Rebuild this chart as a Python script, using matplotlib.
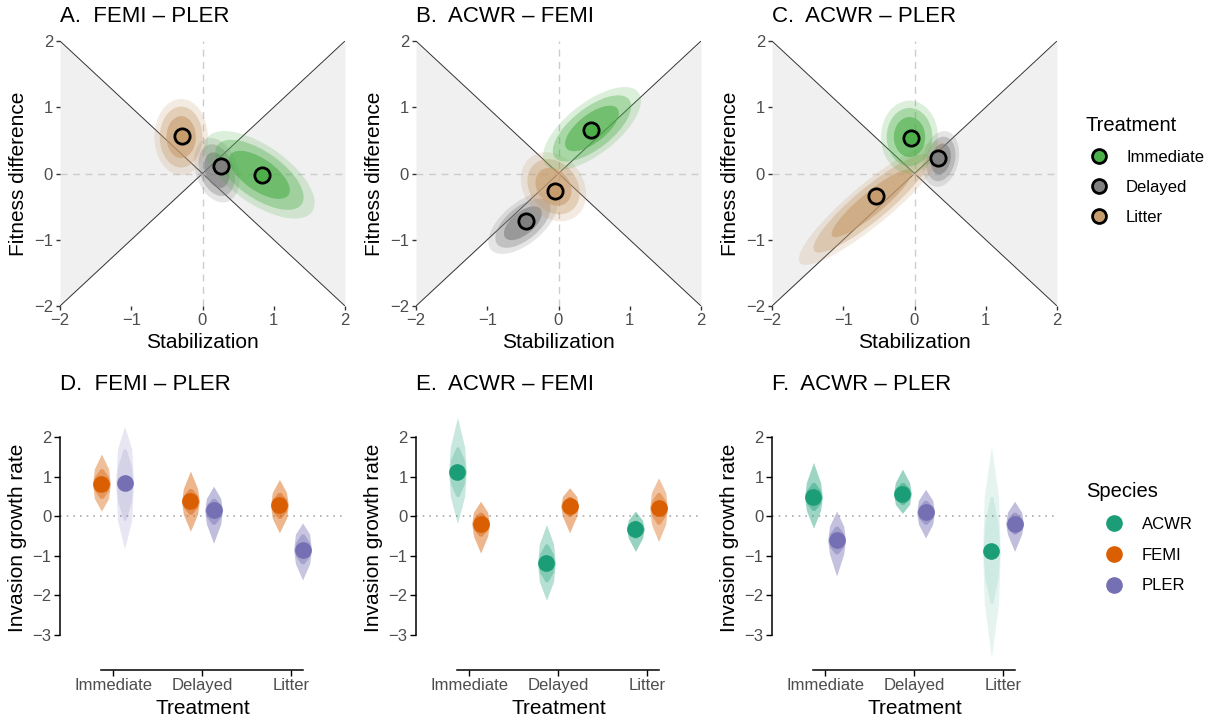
import numpy as np
import matplotlib.pyplot as plt
from matplotlib.patches import Ellipse
from matplotlib.lines import Line2D

plt.rcParams['font.family'] = ['Liberation Sans', 'DejaVu Sans']

# ---- data ----
treatments = ['Immediate', 'Delayed', 'Litter']
treat_colors = ['#4DAF4A', '#7F7F7F', '#C69C6D']
species = ['ACWR', 'FEMI', 'PLER']
species_colors = ['#1B9E77', '#D95F02', '#7570B3']

pairs = ['FEMI \u2013 PLER', 'ACWR \u2013 FEMI', 'ACWR \u2013 PLER']
top_letters = ['A', 'B', 'C']
bottom_letters = ['D', 'E', 'F']

# posterior means (Immediate, Delayed, Litter) for each pair
stab_mean = [[0.83, 0.26, -0.29], [0.46, -0.46, -0.05], [-0.05, 0.33, -0.54]]
fit_mean = [[-0.02, 0.12, 0.57], [0.66, -0.71, -0.26], [0.54, 0.24, -0.34]]

# posterior clouds summarised as ellipses: centre, major / minor axis, angle
cloud_x = [[0.80, 0.20, -0.30], [0.47, -0.50, -0.07], [-0.07, 0.37, -0.60]]
cloud_y = [[-0.02, 0.05, 0.55], [0.68, -0.75, -0.20], [0.55, 0.22, -0.45]]
cloud_major = [[1.85, 1.00, 1.15], [1.70, 1.20, 1.10], [1.10, 0.85, 2.70]]
cloud_minor = [[0.85, 0.60, 0.75], [0.75, 0.60, 0.85], [0.80, 0.50, 0.60]]
cloud_angle = [[-38, -74, 90], [41, 43, -60], [90, 80, 42]]

# invasion growth rates: species shown in each pair, per treatment
igr_species = [['FEMI', 'PLER'], ['ACWR', 'FEMI'], ['ACWR', 'PLER']]
igr_mean = [[[0.82, 0.38, 0.28], [0.85, 0.15, -0.85]],
            [[1.12, -1.19, -0.32], [-0.19, 0.25, 0.21]],
            [[0.48, 0.57, -0.89], [-0.61, 0.10, -0.19]]]
igr_lo = [[[0.13, -0.38, -0.42], [-0.82, -0.68, -1.61]],
          [[-0.19, -2.12, -0.89], [-0.93, -0.42, -0.64]],
          [[-0.30, 0.07, -3.58], [-1.51, -0.55, -0.89]]]
igr_hi = [[[1.57, 1.14, 0.93], [2.27, 0.76, -0.17]],
          [[2.50, -0.21, 0.13], [0.38, 0.72, 0.97]],
          [[1.36, 1.19, 1.76], [0.13, 0.68, 0.38]]]
igr_core_lo = [[[0.45, 0.05, -0.05], [-0.10, -0.20, -1.20]],
               [[0.50, -1.65, -0.55], [-0.50, 0.00, -0.20]],
               [[0.15, 0.30, -2.20], [-0.95, -0.20, -0.45]]]
igr_core_hi = [[[1.20, 0.70, 0.60], [1.70, 0.45, -0.45]],
               [[1.75, -0.70, -0.10], [0.10, 0.50, 0.60]],
               [[0.85, 0.85, 0.50], [-0.25, 0.40, 0.10]]]

# ---- figure ----
fig = plt.figure(figsize=(12.11, 7.21), dpi=100)
W, H = 1211, 721
lefts = [60, 416, 772]
tick_grey = '#4D4D4D'

for p in range(3):
    ax = fig.add_axes([lefts[p] / W, 1 - 306 / H, 285 / W, 265 / H])
    ax.set_xlim(-2, 2)
    ax.set_ylim(-2, 2)
    xs = np.array([-2, 0, 2])
    ax.fill_between(xs, -np.abs(xs), np.abs(xs), color='#F0F0F0', lw=0, zorder=0)
    ax.plot(xs, xs, color='#333333', lw=0.7, zorder=1)
    ax.plot(xs, -xs, color='#333333', lw=0.7, zorder=1)
    ax.axhline(0, color='#CCCCCC', lw=1, ls=(0, (5, 4)), zorder=1)
    ax.axvline(0, color='#CCCCCC', lw=1, ls=(0, (5, 4)), zorder=1)

    for t in [1, 2, 0]:
        cx, cy = cloud_x[p][t], cloud_y[p][t]
        for scale, a in [(1.0, 0.2), (0.8, 0.35), (0.55, 0.6)]:
            ax.add_patch(Ellipse((cx, cy), cloud_major[p][t] * scale,
                                 cloud_minor[p][t] * scale, angle=cloud_angle[p][t],
                                 facecolor=treat_colors[t], edgecolor='none',
                                 alpha=a, zorder=2))
    for t in range(3):
        ax.plot(stab_mean[p][t], fit_mean[p][t], 'o', ms=11, mfc=treat_colors[t],
                mec='black', mew=2, zorder=5)

    for s in ax.spines.values():
        s.set_visible(False)
    ax.set_xticks([-2, -1, 0, 1, 2])
    ax.set_yticks([-2, -1, 0, 1, 2])
    ax.set_xticklabels(['\u22122', '\u22121', '0', '1', '2'])
    ax.set_yticklabels(['\u22122', '\u22121', '0', '1', '2'])
    ax.tick_params(length=3, width=1, color='#333333', labelcolor=tick_grey,
                   labelsize=12, pad=2)
    ax.set_xlabel('Stabilization', fontsize=15, labelpad=4)
    ax.set_ylabel('Fitness difference', fontsize=15, labelpad=4)
    fig.text(lefts[p] / W, 1 - 17 / H, f'{top_letters[p]}.  {pairs[p]}',
             fontsize=16, ha='left', va='center')

dodge = 0.13
hw = 0.1
for p in range(3):
    ax = fig.add_axes([lefts[p] / W, 1 - 670 / H, 285 / W, 265 / H])
    ax.set_xlim(-0.596, 2.607)
    ax.set_ylim(-3.884, 2.81)
    ax.axhline(0, color='#AAAAAA', lw=1.2, ls=(0, (1, 3)), zorder=1)
    for k, sp in enumerate(igr_species[p]):
        col = species_colors[species.index(sp)]
        off = -dodge if k == 0 else dodge
        for t in range(3):
            x = t + off
            m = igr_mean[p][k][t]
            lo, hi = igr_lo[p][k][t], igr_hi[p][k][t]
            clo, chi = igr_core_lo[p][k][t], igr_core_hi[p][k][t]
            a = float(np.clip(0.3 / (chi - clo), 0.1, 0.45))
            ys = np.array([lo, clo, m, chi, hi])
            prof = np.array([0, 0.8, 1, 0.8, 0]) * hw
            ax.fill_betweenx(ys, x - prof, x + prof, color=col, alpha=a, lw=0, zorder=2)
            ys2 = np.array([clo, (clo + m) / 2, m, (m + chi) / 2, chi])
            prof2 = np.array([0.15, 0.75, 0.95, 0.75, 0.15]) * hw
            ax.fill_betweenx(ys2, x - prof2, x + prof2, color=col, alpha=a, lw=0, zorder=2)
            ax.plot(x, m, 'o', ms=12, color=col, mec='none', zorder=5)

    ax.spines['top'].set_visible(False)
    ax.spines['right'].set_visible(False)
    ax.spines['left'].set_bounds(-3, 2)
    ax.spines['bottom'].set_bounds(-dodge, 2 + dodge)
    ax.spines['left'].set_linewidth(1.1)
    ax.spines['bottom'].set_linewidth(1.1)
    ax.set_yticks([-3, -2, -1, 0, 1, 2])
    ax.set_yticklabels(['\u22123', '\u22122', '\u22121', '0', '1', '2'])
    ax.set_xticks([0, 1, 2])
    ax.set_xticklabels(treatments)
    ax.tick_params(length=4, width=1, color='black', labelcolor=tick_grey,
                   labelsize=12, pad=2)
    ax.set_xlabel('Treatment', fontsize=15, labelpad=4)
    ax.set_ylabel('Invasion growth rate', fontsize=15, labelpad=4)
    fig.text(lefts[p] / W, 1 - 385 / H, f'{bottom_letters[p]}.  {pairs[p]}',
             fontsize=16, ha='left', va='center')

treat_handles = [Line2D([], [], ls='none', marker='o', ms=10, mfc=c, mec='black', mew=2)
                 for c in treat_colors]
leg1 = fig.legend(treat_handles, treatments, title='Treatment', loc='upper left',
                  bbox_to_anchor=(1071 / W, 1 - 101 / H), frameon=False,
                  fontsize=12, title_fontsize=14.5, handlelength=1.6,
                  handletextpad=0.8, labelspacing=0.9, alignment='left')
species_handles = [Line2D([], [], ls='none', marker='o', ms=12, color=c, mec='none')
                   for c in species_colors]
leg2 = fig.legend(species_handles, species, title='Species', loc='upper left',
                  bbox_to_anchor=(1071 / W, 1 - 467 / H), frameon=False,
                  fontsize=12, title_fontsize=14.5, handlelength=3.36,
                  handletextpad=0.0, labelspacing=0.95, alignment='left')

fig.savefig('out.png', dpi=100)
